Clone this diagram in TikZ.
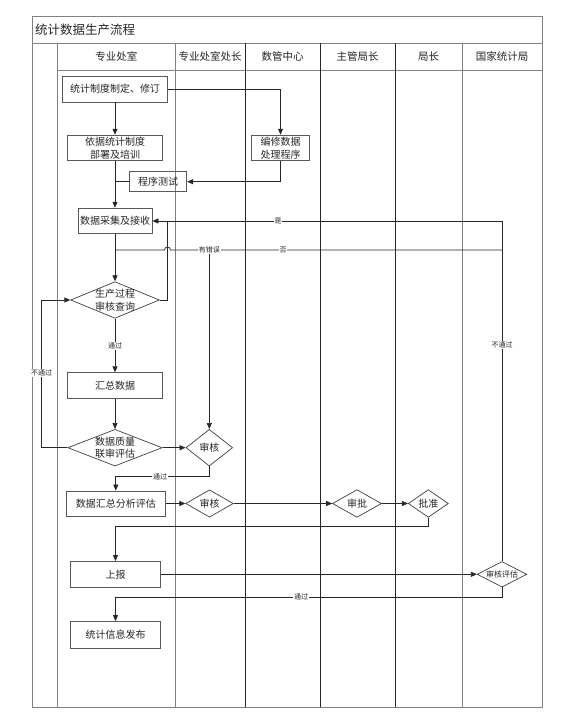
\documentclass[tikz,border=0pt]{standalone}
\usepackage{fontspec}
\setmainfont{Noto Sans CJK SC}
\usetikzlibrary{shapes.geometric,arrows.meta}
\begin{document}
\begin{tikzpicture}[x=1pt,y=-1pt,
 frame/.style={draw=black!50,line width=0.9pt},
 lanel/.style={draw=black!50,line width=0.9pt},
 laned/.style={draw=black!85,line width=0.8pt},
 box/.style={draw=black!65,line width=0.8pt,rectangle,inner sep=0pt,align=center,text=black!85,font=\fontsize{10}{12.5}\selectfont},
 dia/.style={draw=black!75,line width=0.7pt,diamond,inner sep=0pt},
 dtxt/.style={align=center,text=black!85,font=\fontsize{10}{12.5}\selectfont,inner sep=0pt},
 conn/.style={draw=black!85,line width=0.7pt},
 arr/.style={conn,-{Triangle[length=6pt,width=5pt]}},
 lbl/.style={fill=white,inner sep=0.8pt,text=black!85,font=\fontsize{7}{7}\selectfont},
 hdr/.style={font=\fontsize{10.5}{10.5}\selectfont,text=black!85,inner sep=0pt}]

\useasboundingbox (0,0) rectangle (563,723);
\fill[white] (0,0) rectangle (563,723);

% frame and lanes
\draw[frame] (32.5,16) rectangle (542,707);
\draw[frame] (32.5,43) -- (542,43);
\draw[frame] (57.5,70) -- (542,70);
\draw[lanel] (57.5,43) -- (57.5,707);
\draw[lanel] (175,43) -- (175,707);
\draw[laned] (245,43) -- (245,707);
\draw[laned] (320,43) -- (320,707);
\draw[laned] (395,43) -- (395,707);
\draw[lanel] (462,43) -- (462,707);

\node[anchor=west,font=\fontsize{12.5}{12.5}\selectfont,text=black!85,inner sep=0pt] (title) at (35,29.5) {统计数据生产流程};
\node[hdr] (h1) at (116.25,56.5) {专业处室};
\node[hdr] (h2) at (210,56.5) {专业处室处长};
\node[hdr] (h3) at (282.5,56.5) {数管中心};
\node[hdr] (h4) at (357.5,56.5) {主管局长};
\node[hdr] (h5) at (428.5,56.5) {局长};
\node[hdr] (h6) at (502,56.5) {国家统计局};

% nodes
\node[box,minimum width=105pt,minimum height=26pt] (n1) at (115,89) {统计制度制定、修订};
\node[box,minimum width=94.6pt,minimum height=25.7pt] (n2) at (115,148) {依据统计制度\\部署及培训};
\node[box,minimum width=57.6pt,minimum height=25.7pt] (n3) at (280.5,148) {编修数据\\处理程序};
\node[box,minimum width=57.4pt,minimum height=20pt] (n4) at (158,181.7) {程序测试};
\node[box,minimum width=74pt,minimum height=25.7pt] (n5) at (115,221) {数据采集及接收};
\node[dia,minimum width=88.7pt,minimum height=36.6pt,label={[dtxt]center:{生产过程\\审核查询}}] (d1) at (115,300) {};
\node[box,minimum width=94.4pt,minimum height=25.6pt] (n6) at (115,385.5) {汇总数据};
\node[dia,minimum width=94.4pt,minimum height=36.7pt,label={[dtxt]center:{数据质量\\联审评估}}] (d2) at (115,447.7) {};
\node[dia,minimum width=46.7pt,minimum height=36.7pt,label={[dtxt]center:{审核}}] (d3) at (209.3,447.7) {};
\node[box,minimum width=99.7pt,minimum height=25pt] (n7) at (115.8,503.5) {数据汇总分析评估};
\node[dia,minimum width=47.6pt,minimum height=27.4pt,label={[dtxt]center:{审核}}] (d4) at (209.5,503.5) {};
\node[dia,minimum width=49pt,minimum height=27.7pt,label={[dtxt]center:{审批}}] (d5) at (357,503.5) {};
\node[dia,minimum width=40pt,minimum height=27.7pt,label={[dtxt]center:{批准}}] (d6) at (428.3,503.5) {};
\node[box,minimum width=90.5pt,minimum height=25.7pt] (n8) at (115.5,574.3) {上报};
\node[dia,minimum width=49.5pt,minimum height=25.6pt,label={[dtxt,font=\fontsize{8}{8}\selectfont]center:{审核评估}}] (d7) at (502,574.3) {};
\node[box,minimum width=90.5pt,minimum height=27pt] (n9) at (115.5,635) {统计信息发布};

% bend coordinates
\coordinate (c1) at (280.5,89);
\coordinate (c2) at (280.5,181.7);
\coordinate (c3) at (115,181.7);
\coordinate (j1) at (167.5,221);
\coordinate (top7) at (502,221);
\coordinate (noR) at (502,250);
\coordinate (hopR) at (170.5,250);
\coordinate (noL) at (115,250);
\coordinate (lp1) at (41.5,447.7);
\coordinate (lp2) at (41.5,300);
\coordinate (b3a) at (209.3,476.7);
\coordinate (b3b) at (115.8,476.7);
\coordinate (b6a) at (428.3,526.5);
\coordinate (b6b) at (115.5,526.5);
\coordinate (b7a) at (502,597);
\coordinate (b7b) at (115.5,597);

% connectors
\draw[arr] (n1) -- (n2);
\draw[arr] (n1.east) -- (c1) -- (n3.north);
\draw[arr] (n3.south) -- (c2) -- (n4.east);
\draw[conn] (n4.west) -- (c3);
\draw[arr] (n2) -- (n5);
\draw[arr] (n5) -- (d1);
\draw[arr] (d1) -- (n6);
\draw[arr] (n6) -- (d2);
\draw[arr] (d2) -- (d3);
\draw[arr] (d3.south) -- (b3a) -- (b3b) -- (n7.north);
\draw[arr] (d2.west) -- (lp1) -- (lp2) -- (d1.west);
\draw[arr] (n7) -- (d4);
\draw[arr] (d4) -- (d5);
\draw[arr] (d5) -- (d6);
\draw[arr] (d6.south) -- (b6a) -- (b6b) -- (n8.north);
\draw[arr] (n8) -- (d7);
\draw[arr] (d7.south) -- (b7a) -- (b7b) -- (n9.north);
\draw[arr] (d7.north) -- (top7) -- (n5.east);
\draw[conn] (d1.east) -| (j1);
\draw[conn] (noR) -- (hopR) arc[start angle=0,end angle=180,radius=3pt] -- (noL);

% labels
\node[lbl] (l1) at (115,345.7) {通过};
\node[lbl] (l2) at (41.5,372.7) {不通过};
\node[lbl] (l3) at (160,476.7) {通过};
\node[lbl] (l4) at (301,597) {通过};
\node[lbl] (l5) at (502,345) {不通过};
\node[lbl] (l6) at (278,221) {是};
\node[lbl] (l7) at (283,250) {否};
\node[lbl] (l8) at (209.3,250) {有错误};
\draw[arr] (l8.south) -- (d3.north);
\end{tikzpicture}
\end{document}
